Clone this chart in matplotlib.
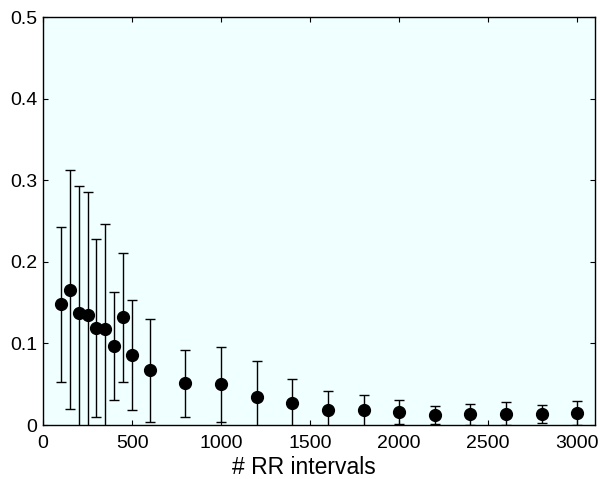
import matplotlib
matplotlib.use('Agg')
import matplotlib.pyplot as plt

# number of RR intervals used, mean value and its spread
n_rr = [100, 150, 200, 250, 300, 350, 400, 450, 500, 600, 800, 1000,
        1200, 1400, 1600, 1800, 2000, 2200, 2400, 2600, 2800, 3000]
mean_val = [0.148, 0.166, 0.137, 0.135, 0.119, 0.118, 0.097, 0.132, 0.086, 0.067, 0.051, 0.050,
            0.034, 0.027, 0.018, 0.018, 0.016, 0.012, 0.013, 0.014, 0.013, 0.015]
std_val = [0.095, 0.146, 0.156, 0.150, 0.109, 0.128, 0.066, 0.079, 0.067, 0.063, 0.041, 0.046,
           0.045, 0.029, 0.024, 0.019, 0.015, 0.011, 0.013, 0.014, 0.011, 0.015]

x_ticks = [0, 500, 1000, 1500, 2000, 2500, 3000]
y_ticks = [0, 0.1, 0.2, 0.3, 0.4, 0.5]
y_labels = ['0', '0.1', '0.2', '0.3', '0.4', '0.5']

plt.rcParams['font.family'] = ['Liberation Sans', 'DejaVu Sans']

fig = plt.figure(figsize=(6.0, 4.79), dpi=100)
ax = fig.add_axes([0.0717, 0.1127, 0.92, 0.8518])
ax.set_facecolor('#F0FFFF')

ax.errorbar(n_rr, mean_val, yerr=std_val, fmt='o', color='black',
            markersize=8.5, ecolor='black', elinewidth=1, capsize=3.6,
            capthick=1, clip_on=True)

ax.set_xlim(0, 3100)
ax.set_ylim(0, 0.5)
ax.set_xticks(x_ticks)
ax.set_xticklabels([str(t) for t in x_ticks])
ax.set_yticks(y_ticks)
ax.set_yticklabels(y_labels)
ax.tick_params(direction='in', length=3.6, width=0.8, labelsize=14,
               top=True, right=True)
ax.tick_params(axis='x', pad=7)
ax.tick_params(axis='y', pad=4)
for s in ax.spines.values():
    s.set_linewidth(1.0)

ax.set_xlabel('# RR intervals', fontsize=16.5)
ax.xaxis.set_label_coords(0.473, -0.075)

fig.savefig('out.png', dpi=100)
